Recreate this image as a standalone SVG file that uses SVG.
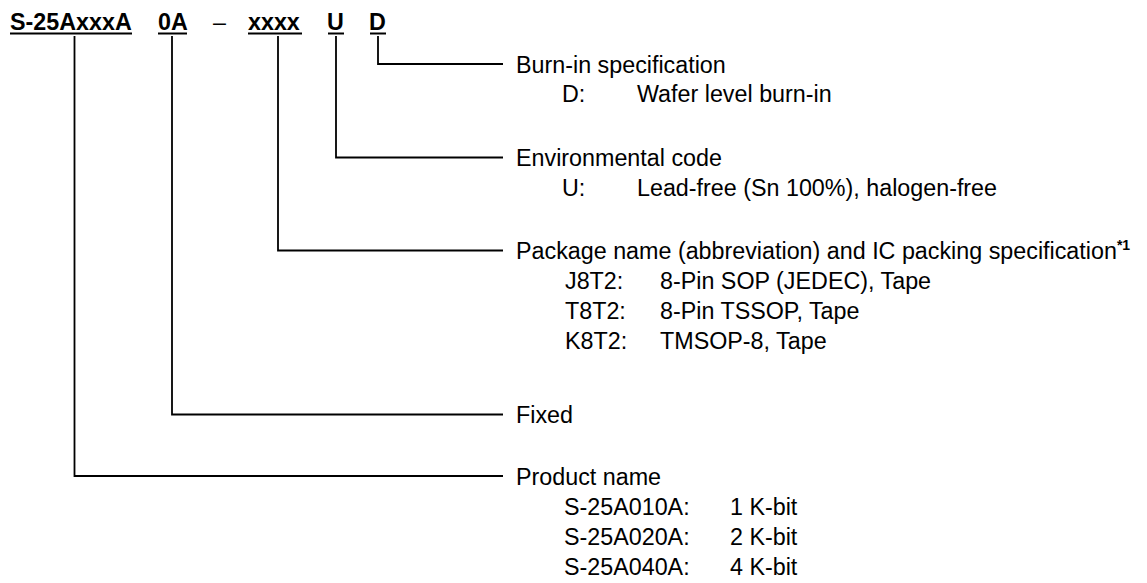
<svg xmlns="http://www.w3.org/2000/svg" width="1147" height="583" viewBox="0 0 1147 583">
<style>
text{font-family:"Liberation Sans",Arial,sans-serif;font-size:23.3px;fill:#000}
.b{font-weight:bold}
.sup{font-weight:bold;font-size:14px}
.ul{stroke:#000;stroke-width:2}
.c{fill:none;stroke:#000;stroke-width:1.8}
</style>
<rect width="1147" height="583" fill="#fff"/>
<g id="header">
<text class="b" x="10" y="30">S-25AxxxA</text>
<text class="b" x="158" y="30">0A</text>
<text x="213" y="30">–</text>
<text class="b" x="248" y="30">xxxx</text>
<text class="b" x="327" y="30">U</text>
<text class="b" x="369" y="30">D</text>
<line class="ul" x1="10" y1="33.5" x2="132" y2="33.5"/>
<line class="ul" x1="158" y1="33.5" x2="187" y2="33.5"/>
<line class="ul" x1="248" y1="33.5" x2="302" y2="33.5"/>
<line class="ul" x1="328" y1="33.5" x2="344" y2="33.5"/>
<line class="ul" x1="370" y1="33.5" x2="386" y2="33.5"/>
</g>
<g id="connectors">
<path class="c" d="M378,36 V64 H503"/>
<path class="c" d="M336,36 V157.5 H503"/>
<path class="c" d="M278,36 V250.5 H503"/>
<path class="c" d="M172,36 V414.5 H503"/>
<path class="c" d="M74.5,36 V476 H503"/>
</g>
<g id="burnin">
<text x="516" y="72.5">Burn-in specification</text>
<text x="562" y="102">D:</text>
<text x="637" y="102">Wafer level burn-in</text>
</g>
<g id="environmental">
<text x="516" y="166">Environmental code</text>
<text x="562" y="196">U:</text>
<text x="637" y="196">Lead-free (Sn 100%), halogen-free</text>
</g>
<g id="package">
<text x="516" y="259">Package name (abbreviation) and IC packing specification<tspan class="sup" dy="-9">*1</tspan></text>
<text x="565" y="289">J8T2:</text>
<text x="660" y="289">8-Pin SOP (JEDEC), Tape</text>
<text x="565" y="319">T8T2:</text>
<text x="660" y="319">8-Pin TSSOP, Tape</text>
<text x="565" y="349">K8T2:</text>
<text x="660" y="349">TMSOP-8, Tape</text>
</g>
<g id="fixed">
<text x="516" y="423">Fixed</text>
</g>
<g id="product">
<text x="516" y="484.5">Product name</text>
<text x="564" y="515">S-25A010A:</text>
<text x="730" y="515">1 K-bit</text>
<text x="564" y="545">S-25A020A:</text>
<text x="730" y="545">2 K-bit</text>
<text x="564" y="575">S-25A040A:</text>
<text x="730" y="575">4 K-bit</text>
</g>
</svg>
